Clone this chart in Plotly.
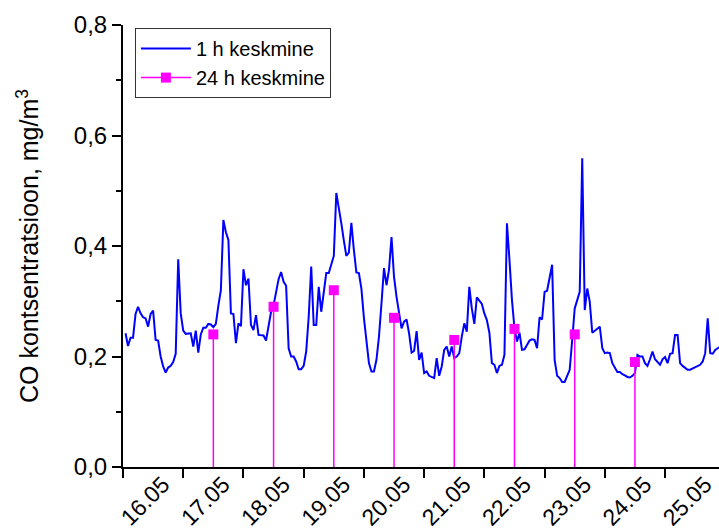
import plotly.graph_objects as go

# Hourly CO concentration (mg/m3), hours counted from 16.05 00:00
co_1h = [
    0.242, 0.219, 0.234, 0.234, 0.277, 0.290, 0.278, 0.271, 0.269, 0.254,
    0.277, 0.283, 0.230, 0.229, 0.200, 0.182, 0.171, 0.180, 0.183, 0.190,
    0.205, 0.376, 0.278, 0.247, 0.241, 0.241, 0.242, 0.218, 0.247, 0.207,
    0.240, 0.252, 0.252, 0.259, 0.258, 0.253, 0.259, 0.292, 0.320, 0.447,
    0.425, 0.411, 0.278, 0.277, 0.224, 0.260, 0.255, 0.358, 0.329, 0.341,
    0.257, 0.248, 0.275, 0.239, 0.239, 0.238, 0.229, 0.254, 0.281, 0.293,
    0.314, 0.340, 0.353, 0.335, 0.328, 0.215, 0.200, 0.200, 0.191, 0.177,
    0.177, 0.183, 0.209, 0.272, 0.363, 0.257, 0.257, 0.326, 0.281, 0.317,
    0.351, 0.351, 0.369, 0.382, 0.496, 0.471, 0.441, 0.410, 0.382, 0.388,
    0.442, 0.393, 0.352, 0.351, 0.323, 0.270, 0.224, 0.188, 0.173, 0.173,
    0.194, 0.236, 0.296, 0.360, 0.329, 0.357, 0.416, 0.344, 0.308, 0.280,
    0.251, 0.263, 0.267, 0.242, 0.207, 0.210, 0.246, 0.194, 0.207, 0.170,
    0.173, 0.165, 0.163, 0.161, 0.197, 0.165, 0.182, 0.212, 0.218, 0.200,
    0.218, 0.197, 0.200, 0.206, 0.236, 0.260, 0.245, 0.326, 0.287, 0.259,
    0.307, 0.302, 0.295, 0.278, 0.266, 0.243, 0.188, 0.185, 0.170, 0.183,
    0.185, 0.203, 0.441, 0.375, 0.302, 0.251, 0.227, 0.243, 0.212, 0.213,
    0.221, 0.229, 0.231, 0.230, 0.215, 0.271, 0.267, 0.317, 0.319, 0.340,
    0.366, 0.194, 0.165, 0.161, 0.154, 0.154, 0.167, 0.176, 0.230, 0.287,
    0.302, 0.317, 0.559, 0.284, 0.323, 0.299, 0.243, 0.247, 0.250, 0.254,
    0.215, 0.206, 0.207, 0.206, 0.188, 0.179, 0.172, 0.172, 0.168, 0.166,
    0.163, 0.162, 0.165, 0.170, 0.203, 0.200, 0.200, 0.188, 0.183, 0.195,
    0.209, 0.195, 0.190, 0.185, 0.195, 0.199, 0.188, 0.205, 0.206, 0.239,
    0.239, 0.188, 0.183, 0.179, 0.176, 0.176, 0.178, 0.180, 0.182, 0.185,
    0.191, 0.206, 0.269, 0.206, 0.205, 0.212, 0.215, 0.218,
]
hours_1h = list(range(1, len(co_1h) + 1))

# Daily (24 h) means, plotted at midday of each day 17.05 ... 24.05
co_24h = [0.24, 0.29, 0.32, 0.27, 0.23, 0.25, 0.24, 0.19]
hours_24h = [36, 60, 84, 108, 132, 156, 180, 204]

day_labels = ["16.05", "17.05", "18.05", "19.05", "20.05",
              "21.05", "22.05", "23.05", "24.05", "25.05"]
day_ticks = [24 * i for i in range(len(day_labels))]

BLUE = "#0000FF"
MAGENTA = "#FF00FF"
FONT = "Arial, Liberation Sans, sans-serif"

fig = go.Figure()

fig.add_trace(go.Scatter(
    x=hours_1h, y=co_1h, mode="lines", name="1 h keskmine",
    line=dict(color=BLUE, width=2),
))

# Daily means: square markers with drop lines to the x axis
fig.add_trace(go.Scatter(
    x=hours_24h, y=co_24h, mode="markers", showlegend=False,
    marker=dict(symbol="square", size=10, color=MAGENTA),
    error_y=dict(type="data", symmetric=False,
                 array=[0] * len(co_24h), arrayminus=co_24h,
                 color=MAGENTA, thickness=1.5, width=0),
))
# Legend entry for the daily means (line + square)
fig.add_trace(go.Scatter(
    x=[None], y=[None], mode="lines+markers", name="24 h keskmine",
    line=dict(color=MAGENTA, width=1.5),
    marker=dict(symbol="square", size=10, color=MAGENTA),
))

fig.update_layout(
    width=719, height=530,
    margin=dict(l=123, r=0, t=25, b=63),
    paper_bgcolor="white", plot_bgcolor="white",
    separators=", ",
    font=dict(family=FONT, color="black"),
    showlegend=True,
    legend=dict(
        x=0.02, y=0.993, xanchor="left", yanchor="top",
        bgcolor="white", bordercolor="#333333", borderwidth=1,
        font=dict(size=20, family=FONT), tracegroupgap=0,
        itemwidth=50,
    ),
)

fig.update_xaxes(
    range=[0, 237.5], automargin=False,
    tickvals=day_ticks, ticktext=day_labels,
    tickangle=-45, ticks="outside", ticklen=9, tickwidth=2, tickcolor="black",
    ticklabelshift=40, ticklabelstandoff=-16, ticklabeloverflow="allow",
    tickfont=dict(size=23, family=FONT),
    showline=True, linecolor="black", linewidth=2,
    showgrid=False, zeroline=False,
)

fig.update_yaxes(
    range=[0, 0.8], dtick=0.2, tick0=0, tickformat=".1f", automargin=False,
    ticks="outside", ticklen=9, tickwidth=2, tickcolor="black",
    minor=dict(dtick=0.1, ticks="outside", ticklen=5, tickwidth=2, tickcolor="black"),
    tickfont=dict(size=24, family=FONT),
    showline=True, linecolor="black", linewidth=2,
    showgrid=False, zeroline=False,
    title=dict(text="CO kontsentratsioon, mg/m<sup>3</sup>",
               font=dict(size=25, family=FONT), standoff=28),
)

fig.write_html("out.html")
